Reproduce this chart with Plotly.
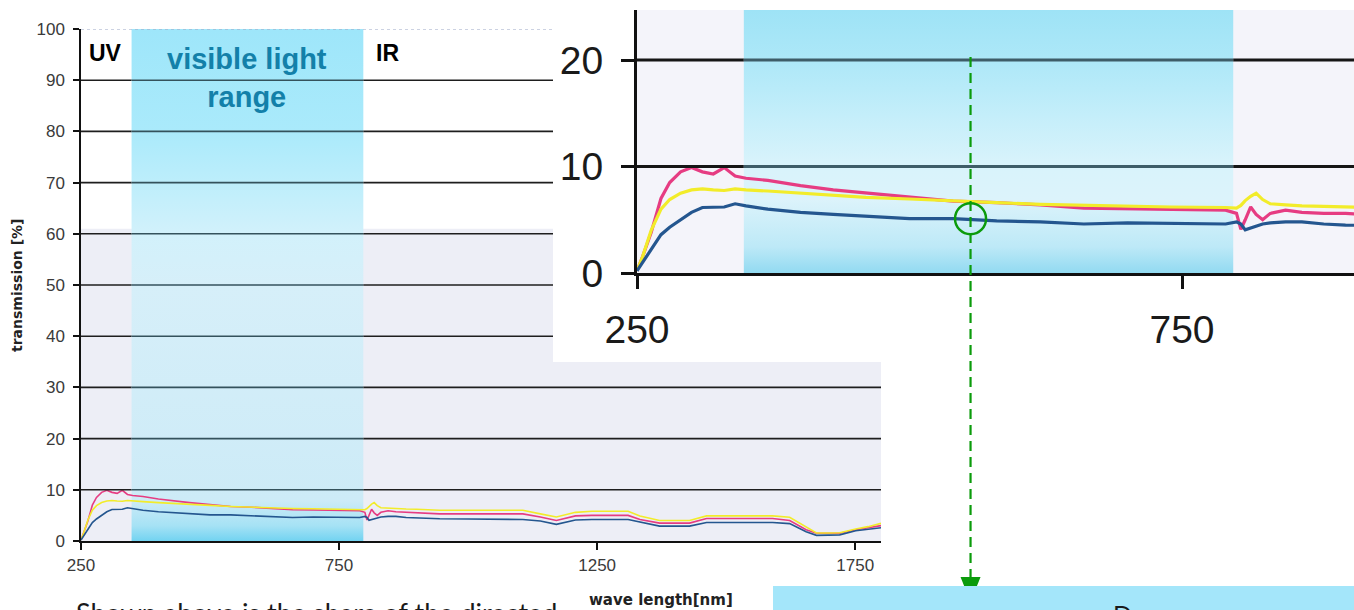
import plotly.graph_objects as go

# ---------------- data ----------------
WAVELENGTH = [250, 255, 263, 272, 280, 290, 300, 310, 320, 330, 340, 350, 370, 400, 430, 460,
              500, 540, 580, 620, 660, 700, 740, 790, 800, 804, 808, 813, 818, 824, 831, 845,
              860, 880, 900, 945, 1000, 1060, 1106, 1140, 1171, 1208, 1240, 1310, 1333, 1371,
              1429, 1462, 1530, 1590, 1623, 1655, 1675, 1700, 1720, 1751, 1775, 1800]

PINK = [0.2, 1.5, 3.8, 7.0, 8.5, 9.5, 9.9, 9.5, 9.3, 9.9, 9.1, 8.9, 8.7, 8.2, 7.8, 7.5,
        7.1, 6.75, 6.6, 6.4, 6.1, 6.05, 5.95, 5.9, 5.6, 4.1, 5.0, 6.2, 5.5, 5.0, 5.6, 5.9,
        5.7, 5.6, 5.6, 5.3, 5.3, 5.3, 5.3, 4.7, 4.0, 4.9, 5.0, 5.0, 4.2, 3.5,
        3.5, 4.4, 4.4, 4.4, 4.0, 2.2, 1.5, 1.5, 1.5, 2.2, 2.6, 3.0]

YELLOW = [0.2, 1.5, 4.0, 6.0, 6.9, 7.5, 7.8, 7.9, 7.8, 7.75, 7.9, 7.8, 7.7, 7.5, 7.3, 7.1,
          6.95, 6.75, 6.6, 6.45, 6.35, 6.3, 6.2, 6.15, 6.1, 6.35, 6.8, 7.2, 7.5, 6.9, 6.5, 6.4,
          6.3, 6.25, 6.2, 6.0, 6.0, 6.0, 6.0, 5.3, 4.7, 5.6, 5.8, 5.8, 4.9, 4.0,
          4.0, 4.9, 4.9, 4.9, 4.65, 2.7, 1.55, 1.55, 1.6, 2.35, 2.8, 3.45]

BLUE = [0.2, 1.0, 2.2, 3.6, 4.3, 5.0, 5.7, 6.15, 6.15, 6.2, 6.5, 6.3, 6.0, 5.7, 5.5, 5.3,
        5.1, 5.1, 4.9, 4.8, 4.6, 4.7, 4.65, 4.6, 4.8, 4.6, 4.05, 4.2, 4.35, 4.6, 4.7, 4.8,
        4.8, 4.6, 4.5, 4.35, 4.3, 4.2, 4.2, 3.9, 3.25, 4.1, 4.2, 4.2, 3.7, 2.9,
        2.9, 3.6, 3.6, 3.6, 3.4, 1.8, 1.1, 1.1, 1.2, 2.0, 2.3, 2.6]

MAIN_XTICKS = [250, 750, 1250, 1750]
MAIN_YTICKS = [0, 10, 20, 30, 40, 50, 60, 70, 80, 90, 100]
INSET_XTICKS = [250, 750]
INSET_YTICKS = [0, 10, 20]
VISIBLE_RANGE = [348, 797]
MARKER_WL = 556
MARKER_VAL = 5.1

# ---------------- layout geometry ----------------
W, H = 1354, 610


def fx(px):
    return px / W


def fy(py):
    return 1 - py / H


MAIN_XRANGE = [250, 1800]
MAIN_YRANGE = [0, 100]
INSET_XRANGE = [250, 907.8]
INSET_YRANGE = [0, 24.7]

PINK_C = "#e63c82"
YELLOW_C = "#f2ec2a"
BLUE_C = "#24568f"
GREEN = "#0b9b0b"

fig = go.Figure()

# visible light band (main)
fig.add_trace(go.Scatter(
    x=[VISIBLE_RANGE[0], VISIBLE_RANGE[1], VISIBLE_RANGE[1], VISIBLE_RANGE[0], VISIBLE_RANGE[0]],
    y=[MAIN_YRANGE[0], MAIN_YRANGE[0], MAIN_YRANGE[1], MAIN_YRANGE[1], MAIN_YRANGE[0]],
    mode="lines", line=dict(width=0), fill="toself",
    fillgradient=dict(type="vertical", colorscale=[
        [0.0, "#72d3f1"], [0.03, "#a6e2f5"], [0.08, "#cdebf7"], [0.5, "#d6eff9"],
        [0.6, "#d2f1fb"], [0.7, "#bdeefb"], [0.8, "#aaeafb"], [1.0, "#9ee6fa"]]),
    hoverinfo="skip", showlegend=False, xaxis="x", yaxis="y"))

# visible light band (inset)
fig.add_trace(go.Scatter(
    x=[VISIBLE_RANGE[0], VISIBLE_RANGE[1], VISIBLE_RANGE[1], VISIBLE_RANGE[0], VISIBLE_RANGE[0]],
    y=[INSET_YRANGE[0], INSET_YRANGE[0], INSET_YRANGE[1], INSET_YRANGE[1], INSET_YRANGE[0]],
    mode="lines", line=dict(width=0), fill="toself",
    fillgradient=dict(type="vertical", colorscale=[
        [0.0, "#92daf1"], [0.1, "#bde9f7"], [0.28, "#dcf3fb"], [0.42, "#d8f3fb"],
        [0.6, "#c4eefa"], [0.8, "#aee8f8"], [1.0, "#9ee3f6"]]),
    hoverinfo="skip", showlegend=False, xaxis="x2", yaxis="y2"))

for (xa, ya, lw) in [("x", "y", 1.6), ("x2", "y2", 3.2)]:
    for vals, col in [(PINK, PINK_C), (YELLOW, YELLOW_C), (BLUE, BLUE_C)]:
        fig.add_trace(go.Scatter(x=WAVELENGTH, y=vals, mode="lines",
                                 line=dict(color=col, width=lw),
                                 hoverinfo="skip", showlegend=False,
                                 xaxis=xa, yaxis=ya))

shapes = []


def grid_segments(xref, yref, v, x0, x1, width, dark, inband):
    """Horizontal gridline split so that the part inside the band is tinted."""
    pieces = []
    a, b = VISIBLE_RANGE
    segs = []
    if x0 < a:
        segs.append((x0, min(a, x1), dark))
    if x1 > a:
        segs.append((a, min(b, x1), inband))
    if x1 > b:
        segs.append((b, x1, dark))
    for s0, s1, c in segs:
        pieces.append(dict(type="line", xref=xref, yref=yref, x0=s0, x1=s1, y0=v, y1=v,
                           line=dict(color=c, width=width), layer="above"))
    return pieces


# main background (lavender lower part, leaving the inset area white)
cut_val = (541 - 362) / 5.12
cut_x = MAIN_XRANGE[0] + (553 - 81) / (800 / (MAIN_XRANGE[1] - MAIN_XRANGE[0]))
shapes.append(dict(type="rect", xref="x", yref="y", x0=MAIN_XRANGE[0], x1=MAIN_XRANGE[1],
                   y0=0, y1=cut_val, fillcolor="#edeef6", line=dict(width=0), layer="below"))
shapes.append(dict(type="rect", xref="x", yref="y", x0=MAIN_XRANGE[0], x1=cut_x,
                   y0=cut_val, y1=61, fillcolor="#edeef6", line=dict(width=0), layer="below"))
# main gridlines
for v in MAIN_YTICKS[1:]:
    x1 = MAIN_XRANGE[1] if v < 35 else cut_x
    if v == 100:
        shapes.append(dict(type="line", xref="x", yref="y", x0=MAIN_XRANGE[0], x1=x1, y0=v, y1=v,
                           line=dict(color="#9aa6c6", width=1.2, dash="dot"), layer="above"))
    else:
        shapes.extend(grid_segments("x", "y", v, MAIN_XRANGE[0], x1, 1.6, "#1e1e1e", "#34525c"))
# inset background
shapes.append(dict(type="rect", xref="x2", yref="y2", x0=INSET_XRANGE[0], x1=INSET_XRANGE[1],
                   y0=INSET_YRANGE[0], y1=INSET_YRANGE[1], fillcolor="#f4f4fa",
                   line=dict(width=0), layer="below"))
for v in INSET_YTICKS[1:]:
    shapes.extend(grid_segments("x2", "y2", v, INSET_XRANGE[0], INSET_XRANGE[1], 3, "#151515", "#3e5d68"))

# green marker circle and dashed arrow
rx = 15.5 / (717 / (INSET_XRANGE[1] - INSET_XRANGE[0]))
ry = 15.5 / (263 / (INSET_YRANGE[1] - INSET_YRANGE[0]))
shapes.append(dict(type="circle", xref="x2", yref="y2",
                   x0=MARKER_WL - rx, x1=MARKER_WL + rx, y0=MARKER_VAL - ry, y1=MARKER_VAL + ry,
                   line=dict(color=GREEN, width=2.5), layer="above"))
shapes.append(dict(type="line", xref="x2", yref="paper", x0=MARKER_WL, x1=MARKER_WL,
                   y0=fy(57), y1=fy(578), line=dict(color=GREEN, width=2.2, dash="10px,6px"),
                   layer="above"))
hw = 10 / (717 / (INSET_XRANGE[1] - INSET_XRANGE[0]))
shapes.append(dict(type="path", xref="x2", yref="paper",
                   path=f"M {MARKER_WL - hw},{fy(577)} L {MARKER_WL + hw},{fy(577)} L {MARKER_WL},{fy(602)} Z",
                   fillcolor=GREEN, line=dict(color=GREEN, width=0), layer="above"))
# light blue box at bottom right
shapes.append(dict(type="rect", xref="paper", yref="paper", x0=fx(773), x1=1.0,
                   y0=fy(640), y1=fy(586), fillcolor="#a4e6fa", line=dict(width=0), layer="above"))

annotations = [
    dict(text="UV", x=fx(106), y=fy(53), font=dict(family="Liberation Sans", size=23, color="#000", weight="bold")),
    dict(text="IR", x=fx(387), y=fy(53), font=dict(family="Liberation Sans", size=23, color="#000", weight="bold")),
    dict(text="visible light<br>range", x=fx(247), y=fy(78),
         font=dict(family="Liberation Sans", size=29, color="#1380a9", weight="bold")),
    dict(text="transmission [%]", x=fx(17), y=fy(286), textangle=-90,
         font=dict(family="DejaVu Sans", size=14, color="#222", weight="bold")),
    dict(text="wave length[nm]", x=fx(661), y=fy(600),
         font=dict(family="DejaVu Sans", size=15, color="#222", weight="bold")),
    dict(text="Shown above is the share of the directed", x=fx(74), y=fy(594), xanchor="left", yanchor="top",
         font=dict(family="Lato", size=27, color="#1a1a1a")),
    dict(text="D", x=fx(1122), y=fy(597), xanchor="center", yanchor="top",
         font=dict(family="Lato", size=25, color="#1a1a1a")),
]
for a in annotations:
    a.setdefault("xref", "paper")
    a.setdefault("yref", "paper")
    a.setdefault("showarrow", False)
    a.setdefault("xanchor", "center")
    a.setdefault("yanchor", "middle")

tick_font_main = dict(family="Liberation Sans", size=17, color="#3a3a3a")
tick_font_inset = dict(family="Liberation Sans", size=39, color="#1a1a1a")

fig.update_layout(
    width=W, height=H, autosize=False,
    margin=dict(l=0, r=0, t=0, b=0, pad=0, autoexpand=False),
    paper_bgcolor="white", plot_bgcolor="rgba(0,0,0,0)",
    showlegend=False,
    shapes=shapes, annotations=annotations,
    xaxis=dict(domain=[fx(81), fx(881)], range=MAIN_XRANGE, anchor="y",
               tickvals=MAIN_XTICKS, ticktext=[str(v) for v in MAIN_XTICKS],
               showgrid=False, zeroline=False, showline=True, linecolor="#111", linewidth=2,
               ticks="outside", ticklen=7, tickwidth=1.5, tickcolor="#111",
               tickfont=tick_font_main, ticklabelstandoff=1),
    yaxis=dict(domain=[fy(541), fy(29)], range=MAIN_YRANGE, anchor="x",
               tickvals=MAIN_YTICKS, ticktext=[str(v) for v in MAIN_YTICKS],
               showgrid=False, zeroline=False, showline=True, linecolor="#111", linewidth=1.5,
               ticks="outside", ticklen=6, tickwidth=1.5, tickcolor="#111",
               tickfont=tick_font_main, ticklabelstandoff=5),
    xaxis2=dict(domain=[fx(637), 1.0], range=INSET_XRANGE, anchor="y2",
                tickvals=INSET_XTICKS, ticktext=[str(v) for v in INSET_XTICKS],
                showgrid=False, zeroline=False, showline=True, linecolor="#111", linewidth=3,
                ticks="outside", ticklen=13, tickwidth=3, tickcolor="#111",
                tickfont=tick_font_inset, ticklabelstandoff=7),
    yaxis2=dict(domain=[fy(273), fy(10)], range=INSET_YRANGE, anchor="x2",
                tickvals=INSET_YTICKS, ticktext=[str(v) for v in INSET_YTICKS],
                showgrid=False, zeroline=False, showline=True, linecolor="#111", linewidth=3,
                ticks="outside", ticklen=13, tickwidth=3, tickcolor="#111",
                tickfont=tick_font_inset, ticklabelstandoff=10),
)

fig.write_html("out.html", config={"displayModeBar": False},
               post_script="document.body.style.margin='0';document.body.style.overflow='hidden';")
